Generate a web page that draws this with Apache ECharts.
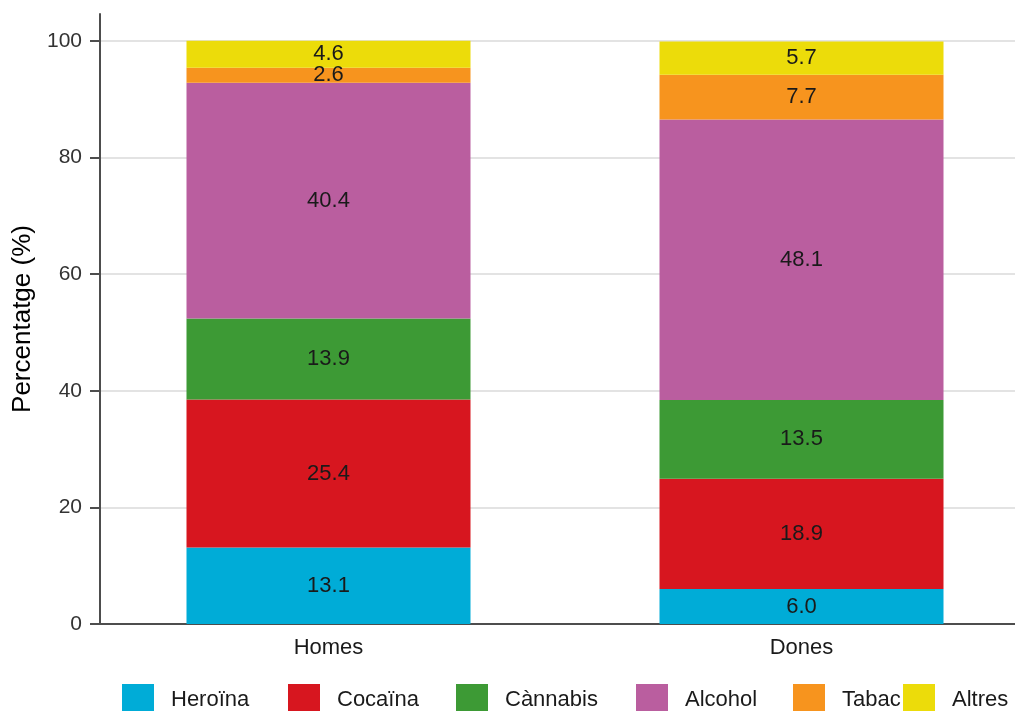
<!DOCTYPE html>
<html>
<head>
<meta charset="utf-8">
<script src="https://cdn.jsdelivr.net/npm/echarts@6/dist/echarts.min.js"></script>
<style>
    html, body { margin: 0; padding: 0; background: #fff; }
    #main { width: 1015px; height: 711px; }
</style>
</head>
<body>
<div id="main"></div>
<script>
(function (win) {
    var categories = ['Homes', 'Dones'],
        seriesNames = ['Heroïna', 'Cocaïna', 'Cànnabis', 'Alcohol', 'Tabac', 'Altres'],
        heroina = [13.1, 6.0],
        cocaina = [25.4, 18.9],
        cannabis = [13.9, 13.5],
        alcohol = [40.4, 48.1],
        tabac = [2.6, 7.7],
        altres = [4.6, 5.7],
        yTicks = [0, 20, 40, 60, 80, 100];

    var colors = ['#00acd7', '#d7161f', '#3d9a35', '#ba5e9f', '#f7941e', '#ecdc0a'],
        values = [heroina, cocaina, cannabis, alcohol, tabac, altres],
        legendLeft = [117, 283, 451, 631, 788, 898],
        font = 'Liberation Sans, Arial, sans-serif';

    var chart = echarts.init(document.getElementById('main'));

    //系列
    var series = [];
    for (var i = 0; i < seriesNames.length; i++) {
        series.push({
            name: seriesNames[i],
            type: 'bar',
            stack: 'total',
            barWidth: 284,
            itemStyle: { color: colors[i] },
            label: {
                show: true,
                position: 'inside',
                color: '#1a1a1a',
                fontFamily: font,
                fontSize: 22,
                formatter: function (p) {
                    return p.value.toFixed(1);
                }
            },
            data: values[i]
        });
    }

    //图例
    var legends = seriesNames.map(function (name, k) {
        return {
            data: [name],
            left: legendLeft[k],
            top: 679,
            icon: 'rect',
            itemWidth: 32,
            itemHeight: 32,
            selectedMode: false,
            textStyle: {
                fontFamily: font,
                fontSize: 22,
                color: '#1a1a1a',
                padding: [0, 0, 0, 12]
            }
        };
    });

    chart.setOption({
        animation: false,
        backgroundColor: '#fff',
        grid: { left: 92, width: 946, top: 14, bottom: 87, outerBoundsMode: 'none', containLabel: false },
        legend: legends,
        xAxis: {
            type: 'category',
            data: categories,
            axisLine: { show: true, lineStyle: { color: '#4d4d4d', width: 2 } },
            axisTick: { show: false },
            splitLine: { show: false },
            axisLabel: {
                margin: 13,
                color: '#1a1a1a',
                fontFamily: font,
                fontSize: 22
            }
        },
        yAxis: {
            type: 'value',
            min: 0,
            max: 104.6,
            offset: -8,
            name: 'Percentatge (%)',
            nameLocation: 'middle',
            nameGap: 62,
            nameTextStyle: { fontFamily: font, fontSize: 26, color: '#000' },
            axisLine: { show: true, lineStyle: { color: '#4d4d4d', width: 2 } },
            axisTick: { show: true, length: 10, customValues: yTicks, lineStyle: { color: '#4d4d4d', width: 2 } },
            axisLabel: {
                customValues: yTicks,
                margin: 18,
                color: '#333',
                fontFamily: font,
                fontSize: 21
            },
            splitLine: { show: true, lineStyle: { color: '#e3e3e3', width: 2 } }
        },
        series: series
    });
})(this);
</script>
</body>
</html>
